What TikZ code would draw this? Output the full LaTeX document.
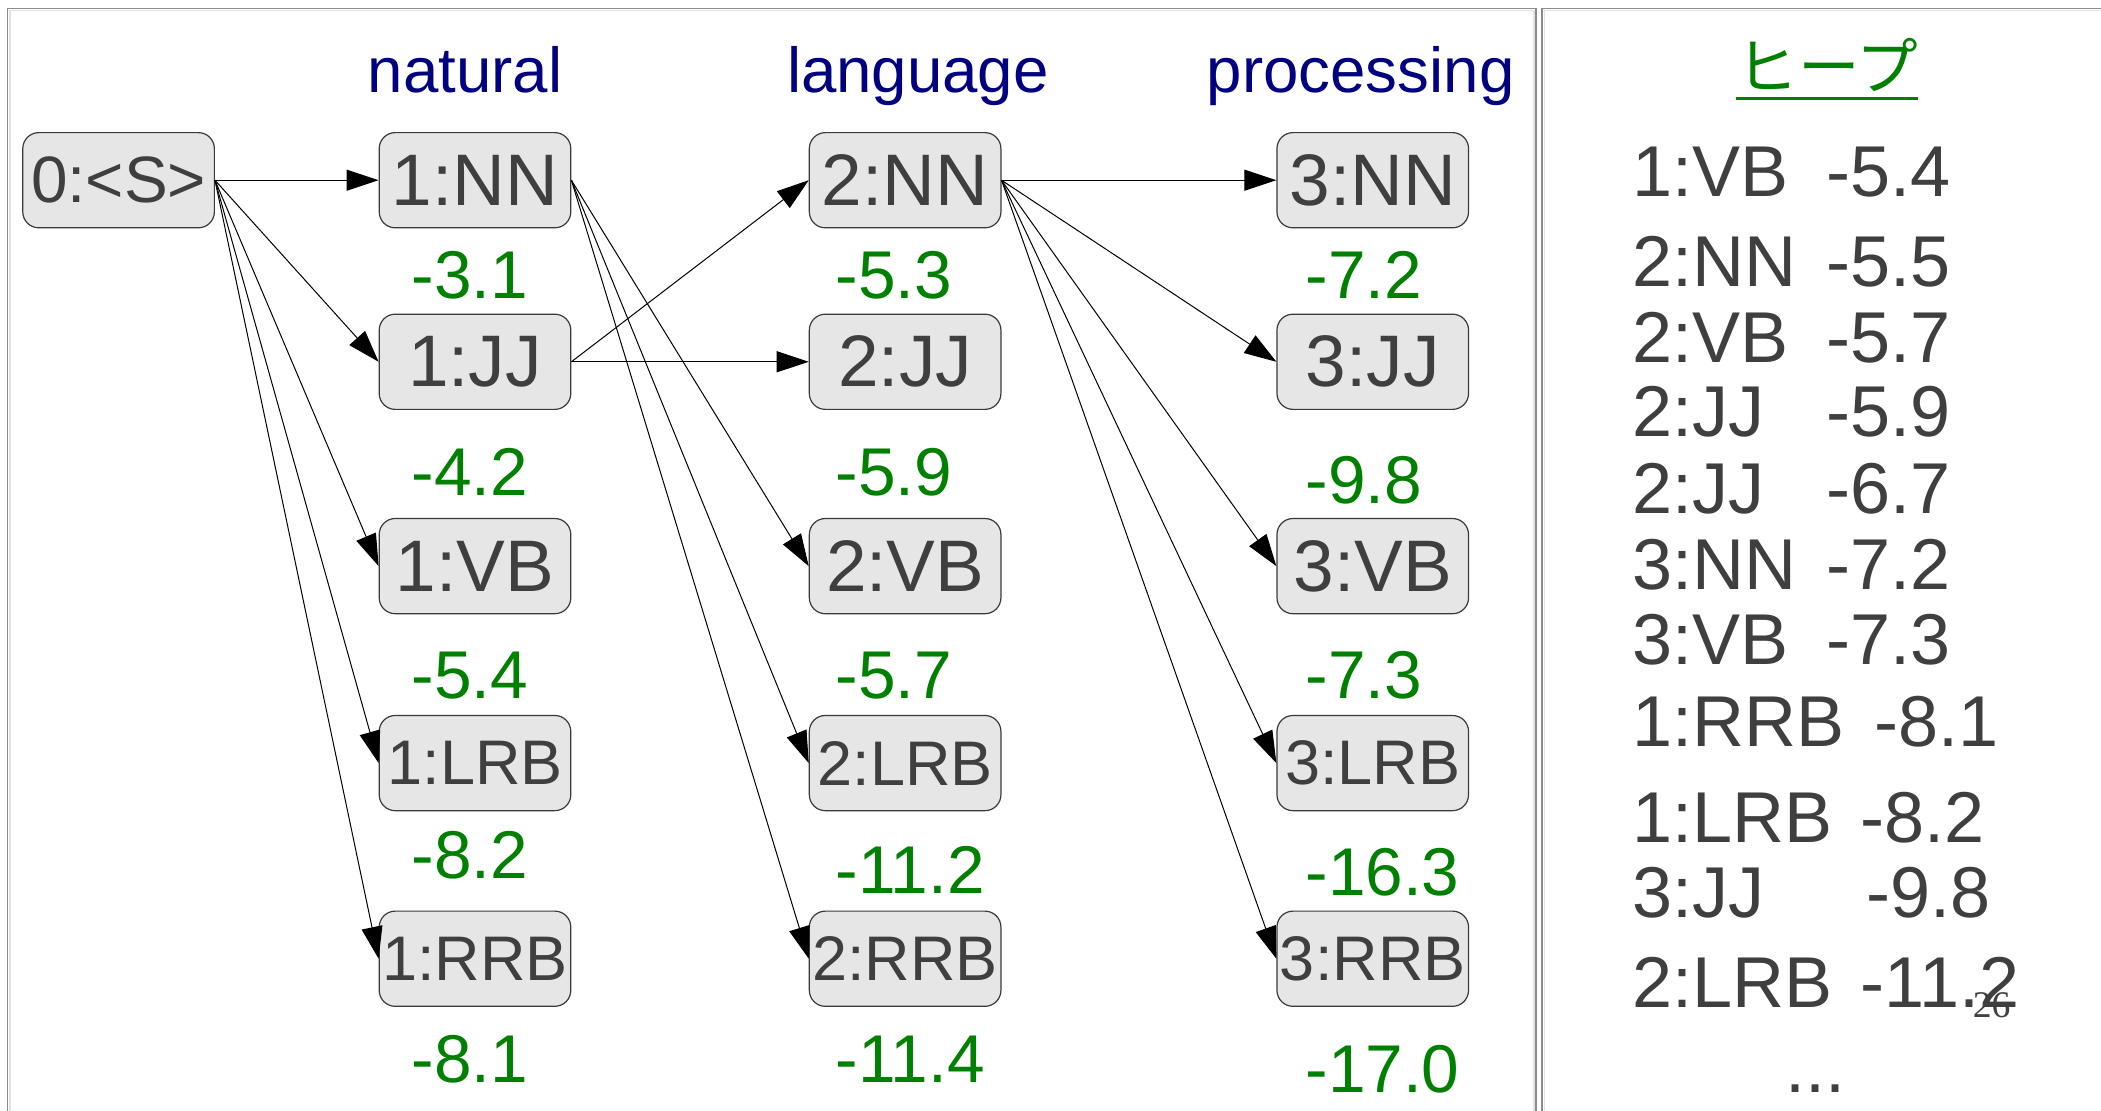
\documentclass[tikz,border=0pt]{standalone}
\usepackage{fontspec}
\setmainfont{Liberation Sans}
\newfontfamily\jpfont{Noto Sans CJK JP}
\newfontfamily\pgserif{Liberation Serif}
\usetikzlibrary{arrows.meta}
\definecolor{hdrblue}{HTML}{000080}
\definecolor{scoregreen}{HTML}{008000}
\definecolor{txtgray}{HTML}{3F3F3F}
\definecolor{boxfill}{HTML}{E6E6E6}
\definecolor{boxline}{HTML}{3A3A3A}
\definecolor{framegray}{HTML}{8C8C8C}
\definecolor{framelight}{HTML}{E2E2E2}
\begin{document}
\begin{tikzpicture}[x=0.67pt,y=-0.67pt,
  tag/.style={draw=boxline, line width=0.6pt, fill=boxfill, rounded corners=8pt,
    minimum width=95.8pt, minimum height=47.6pt, inner sep=0pt, text=txtgray,
    font=\fontsize{36.5}{40}\selectfont},
  tagsmall/.style={tag, font=\fontsize{31.5}{36}\selectfont},
  hdr/.style={anchor=base, inner sep=0pt, text=hdrblue, font=\fontsize{31.8}{36}\selectfont},
  score/.style={anchor=base west, inner sep=0pt, text=scoregreen, font=\fontsize{33.8}{38}\selectfont},
  heapitem/.style={anchor=base west, inner sep=0pt, text=txtgray, font=\fontsize{36}{40}\selectfont},
  edge/.style={line width=0.5pt, -{Triangle[length=16pt,width=10.5pt]}}
]
\useasboundingbox (0,0) rectangle (1568,829);
\fill[white] (0,0) rectangle (1568,829);

% frames
\draw[framelight, line width=0.8pt] (7.4,829) -- (7.4,7.9) -- (1144.8,7.9) -- (1144.8,829);
\draw[framegray, line width=0.8pt] (5.7,829) -- (5.7,6.2) -- (1146.5,6.2) -- (1146.5,829);
\draw[framelight, line width=0.8pt] (1152.7,829) -- (1152.7,7.9) -- (1568,7.9);
\draw[framegray, line width=0.8pt] (1151,829) -- (1151,6.2) -- (1568,6.2);

% headers
\node[hdr] (hnat) at (347,69.2) {natural};
\node[hdr] (hlang) at (685,69.2) {language};
\node[hdr] (hproc) at (1015.5,69.2) {processing};

% nodes
\node[tag, font=\fontsize{32.8}{36}\selectfont] (s0) at (88.5,134.5) {0:<S>};

\node[tag] (n1) at (354.5,134.5) {1:NN};
\node[tag] (j1) at (354.5,270) {1:JJ};
\node[tag] (v1) at (354.5,422.5) {1:VB};
\node[tagsmall] (l1) at (354.5,569.5) {1:LRB};
\node[tagsmall] (r1) at (354.5,715.5) {1:RRB};

\node[tag] (n2) at (675.5,134.5) {2:NN};
\node[tag] (j2) at (675.5,270) {2:JJ};
\node[tag] (v2) at (675.5,422.5) {2:VB};
\node[tagsmall] (l2) at (675.5,569.5) {2:LRB};
\node[tagsmall] (r2) at (675.5,715.5) {2:RRB};

\node[tag] (n3) at (1024.5,134.5) {3:NN};
\node[tag] (j3) at (1024.5,270) {3:JJ};
\node[tag] (v3) at (1024.5,422.5) {3:VB};
\node[tagsmall] (l3) at (1024.5,569.5) {3:LRB};
\node[tagsmall] (r3) at (1024.5,715.5) {3:RRB};

% scores
\node[score] (sc11) at (307,223) {-3.1};
\node[score] (sc12) at (307,369.6) {-4.2};
\node[score] (sc13) at (307,521) {-5.4};
\node[score] (sc14) at (307,656) {-8.2};
\node[score] (sc15) at (307,808) {-8.1};

\node[score] (sc21) at (623.5,223) {-5.3};
\node[score] (sc22) at (623.5,369.6) {-5.9};
\node[score] (sc23) at (623.5,521) {-5.7};
\node[score] (sc24) at (623.5,666.5) {-11.2};
\node[score] (sc25) at (623.5,808) {-11.4};

\node[score] (sc31) at (974,223) {-7.2};
\node[score] (sc32) at (974,375.6) {-9.8};
\node[score] (sc33) at (974,521) {-7.3};
\node[score] (sc34) at (974,668) {-16.3};
\node[score] (sc35) at (974,815) {-17.0};

% edges
\draw[edge] (s0.east) -- (n1.west);
\draw[edge] (s0.east) -- (j1.west);
\draw[edge] (s0.east) -- (v1.west);
\draw[edge] (s0.east) -- (l1.west);
\draw[edge] (s0.east) -- (r1.west);

\draw[edge] (n1.east) -- (v2.west);
\draw[edge] (n1.east) -- (l2.west);
\draw[edge] (n1.east) -- (r2.west);
\draw[edge] (j1.east) -- (n2.west);
\draw[edge] (j1.east) -- (j2.west);

\draw[edge] (n2.east) -- (n3.west);
\draw[edge] (n2.east) -- (j3.west);
\draw[edge] (n2.east) -- (v3.west);
\draw[edge] (n2.east) -- (l3.west);
\draw[edge] (n2.east) -- (r3.west);

% heap title
\node[anchor=base, inner sep=0pt, text=scoregreen, font=\jpfont\fontsize{30.8}{34}\selectfont] (heaptitle) at (1363.5,67) {ヒープ};
\draw[scoregreen, line width=1.7pt] ([yshift=-4.3pt]heaptitle.base west) -- ([yshift=-4.3pt]heaptitle.base east);

% heap list
\node[heapitem] (hl1) at (1218,147) {1:VB};   \node[heapitem] (hv1) at (1362.5,147) {-5.4};
\node[heapitem] (hl2) at (1218,214) {2:NN};   \node[heapitem] (hv2) at (1362.5,214) {-5.5};
\node[heapitem] (hl3) at (1218,270.7) {2:VB}; \node[heapitem] (hv3) at (1362.5,270.7) {-5.7};
\node[heapitem] (hl4) at (1218,326) {2:JJ};   \node[heapitem] (hv4) at (1362.5,326) {-5.9};
\node[heapitem] (hl5) at (1218,383) {2:JJ};   \node[heapitem] (hv5) at (1362.5,383) {-6.7};
\node[heapitem] (hl6) at (1218,440) {3:NN};   \node[heapitem] (hv6) at (1362.5,440) {-7.2};
\node[heapitem] (hl7) at (1218,496) {3:VB};   \node[heapitem] (hv7) at (1362.5,496) {-7.3};
\node[heapitem] (hl8) at (1218,557) {1:RRB};  \node[heapitem] (hv8) at (1398.5,557) {-8.1};
\node[heapitem] (hl9) at (1218,629) {1:LRB};  \node[heapitem] (hv9) at (1388.5,629) {-8.2};
\node[heapitem] (hl10) at (1218,685) {3:JJ};  \node[heapitem] (hv10) at (1393,685) {-9.8};
\node[heapitem] (hl11) at (1218,752) {2:LRB}; \node[heapitem] (hv11) at (1388.5,752) {-11.2};
\node[heapitem] (hdots) at (1332,815) {...};

% page number
\node[anchor=base west, inner sep=0pt, text=txtgray, font=\pgserif\fontsize{18.8}{22}\selectfont] (pgnum) at (1472,759) {26};
\end{tikzpicture}
\end{document}
